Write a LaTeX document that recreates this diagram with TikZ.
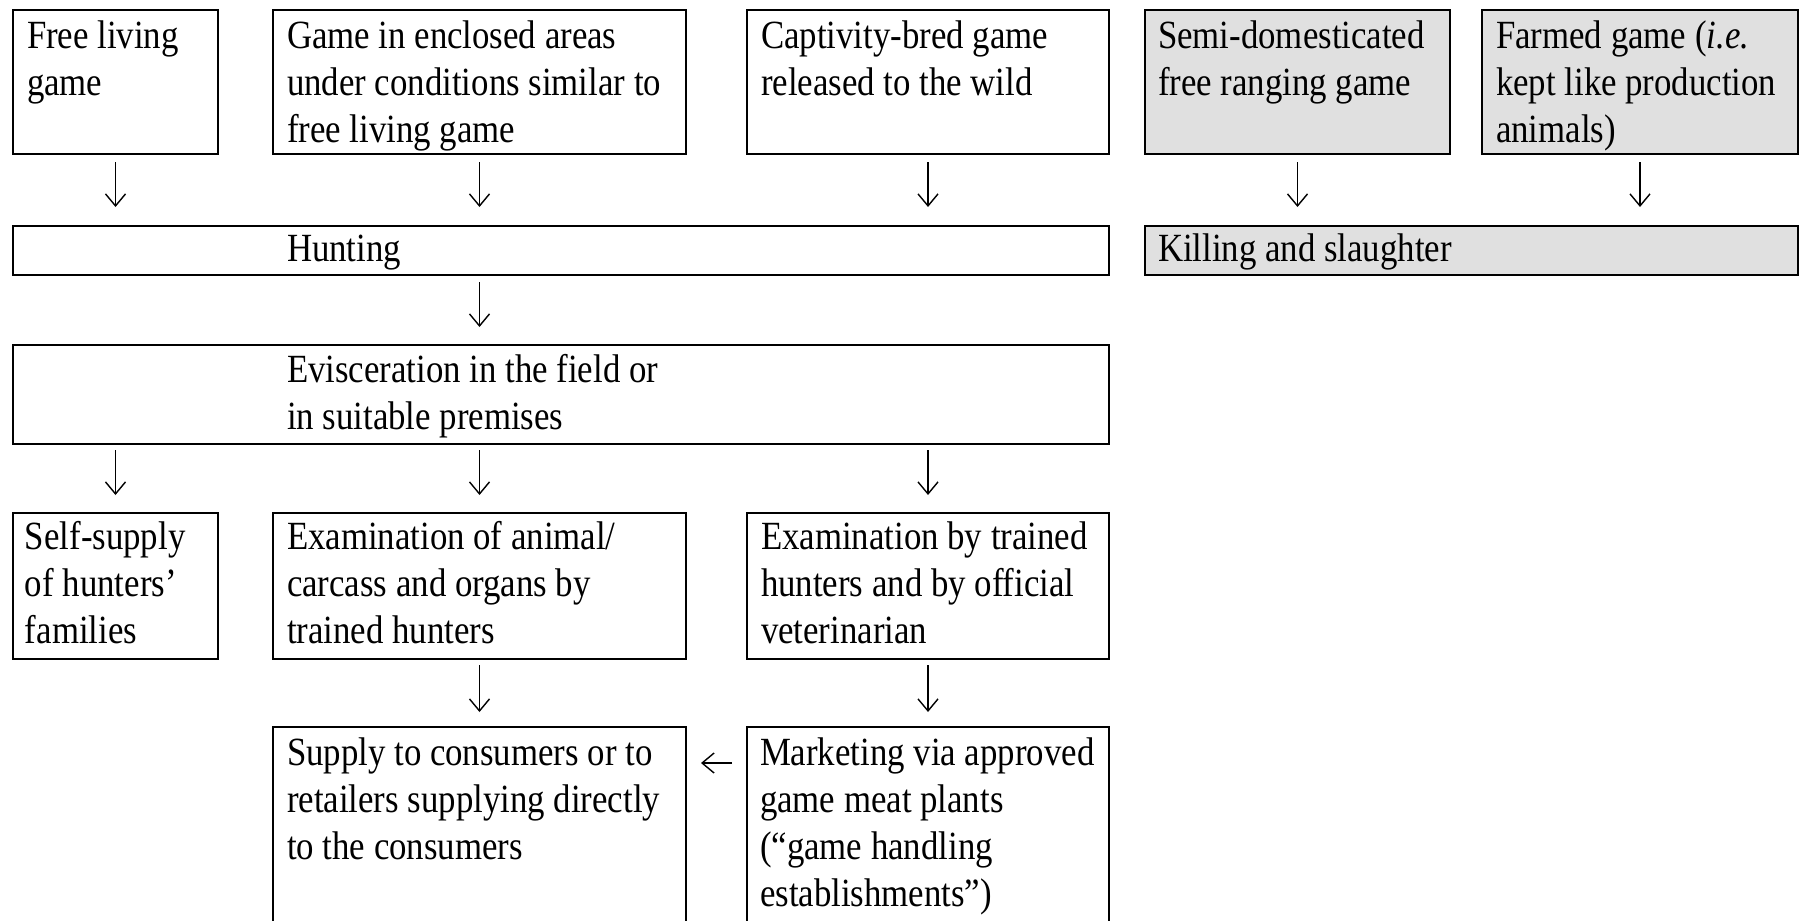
\documentclass[tikz,border=0pt]{standalone}
\usepackage{fontspec}
\setmainfont[FakeStretch=0.87]{Liberation Serif}
\usetikzlibrary{arrows.meta,calc,fit}
\definecolor{boxgray}{RGB}{224,224,224}
\begin{document}
\begin{tikzpicture}[x=0.5pt,y=-0.5pt,
  box/.style={draw, line width=1.1pt, inner sep=0pt, outer sep=0pt},
  gbox/.style={box, fill=boxgray},
  txt/.style={anchor=north west, inner sep=0pt, outer sep=0pt, align=left,
              font=\fontsize{20}{23.5}\selectfont},
  arr/.style={line width=0.7pt, -{Straight Barb[length=6pt,width=10pt,line width=0.7pt]}}]
\useasboundingbox (0,0) rectangle (1802,920);
\clip (0,0) rectangle (1802,920);
% row 1
\node[box,  fit={(13,10) (218,154)}] (A) {};
\node[box,  fit={(273,10) (686,154)}] (B) {};
\node[box,  fit={(747,10) (1109,154)}] (C) {};
\node[gbox, fit={(1145,10) (1450,154)}] (D) {};
\node[gbox, fit={(1482,10) (1798,154)}] (E) {};
% row 2
\node[box,  fit={(13,226) (1109,275)}] (H) {};
\node[gbox, fit={(1145,226) (1798,275)}] (K) {};
% row 3
\node[box,  fit={(13,345) (1109,444)}] (V) {};
% row 4
\node[box,  fit={(13,513) (218,659)}] (S) {};
\node[box,  fit={(273,513) (686,659)}] (X) {};
\node[box,  fit={(747,513) (1109,659)}] (Y) {};
% row 5
\node[box,  fit={(273,727) (686,935)}] (P) {};
\node[box,  fit={(747,727) (1109,935)}] (M) {};
% texts
\node[txt] (tA) at ($(A.north west)+(14,6)$) {\strut Free living\\game};
\node[txt] (tB) at ($(B.north west)+(14,6)$) {\strut Game in enclosed areas\\under conditions similar to\\free living game};
\node[txt] (tC) at ($(C.north west)+(14,6)$) {\strut Captivity-bred game\\released to the wild};
\node[txt] (tD) at ($(D.north west)+(13,6)$) {\strut Semi-domesticated\\free ranging game};
\node[txt] (tE) at ($(E.north west)+(14,6)$) {\strut Farmed game (\textit{i.e.}\\kept like production\\animals)};
\node[txt] (tH) at ($(H.north west)+(274,3)$) {\strut Hunting};
\node[txt] (tK) at ($(K.north west)+(13,3)$) {\strut Killing and slaughter};
\node[txt] (tV) at ($(V.north west)+(274,5)$) {\strut Evisceration in the field or\\in suitable premises};
\node[txt] (tS) at ($(S.north west)+(12,4)$) {\strut Self-supply\\of hunters’\\families};
\node[txt] (tX) at ($(X.north west)+(14,4)$) {\strut Examination of animal/\\carcass and organs by\\trained hunters};
\node[txt] (tY) at ($(Y.north west)+(14,4)$) {\strut Examination by trained\\hunters and by official\\veterinarian};
\node[txt] (tP) at ($(P.north west)+(14,6)$) {\strut Supply to consumers or to\\retailers supplying directly\\to the consumers};
\node[txt] (tM) at ($(M.north west)+(13,6)$) {\strut Marketing via approved\\game meat plants\\(“game handling\\establishments”)};
% arrows row 1 -> row 2
\draw[arr] ($(A.south)+(0,8)$) -- ($(A.south |- H.north)+(0,-19)$);
\draw[arr] ($(B.south)+(0,8)$) -- ($(B.south |- H.north)+(0,-19)$);
\draw[arr] ($(C.south)+(0,8)$) -- ($(C.south |- H.north)+(0,-19)$);
\draw[arr] ($(D.south)+(0,8)$) -- ($(D.south |- K.north)+(0,-19)$);
\draw[arr] ($(E.south)+(0,8)$) -- ($(E.south |- K.north)+(0,-19)$);
% hunting -> evisceration
\draw[arr] ($(B.south |- H.south)+(0,7)$) -- ($(B.south |- V.north)+(0,-18)$);
% evisceration -> row 3
\draw[arr] ($(S.north |- V.south)+(0,6)$) -- ($(S.north)+(0,-18)$);
\draw[arr] ($(X.north |- V.south)+(0,6)$) -- ($(X.north)+(0,-18)$);
\draw[arr] ($(Y.north |- V.south)+(0,6)$) -- ($(Y.north)+(0,-18)$);
% row 3 -> row 4
\draw[arr] ($(X.south)+(0,6)$) -- ($(X.south |- P.north)+(0,-15)$);
\draw[arr] ($(Y.south)+(0,6)$) -- ($(Y.south |- M.north)+(0,-15)$);
% marketing -> supply
\draw[arr] ($(M.north west)+(-15,36)$) -- ($(P.north east)+(15,36)$);
\end{tikzpicture}
\end{document}
